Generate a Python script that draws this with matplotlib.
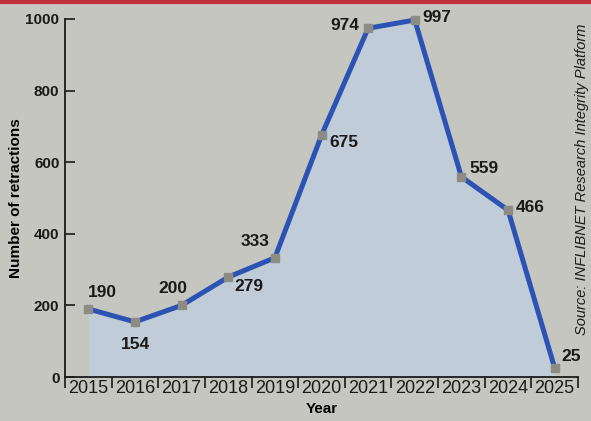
import matplotlib
matplotlib.use("Agg")
import matplotlib.pyplot as plt
from matplotlib.lines import Line2D

years = ["2015", "2016", "2017", "2018", "2019", "2020", "2021", "2022", "2023", "2024", "2025"]
retractions = [190, 154, 200, 279, 333, 675, 974, 997, 559, 466, 25]
yticks = [0, 200, 400, 600, 800, 1000]
# label offsets (points) for each data label
label_offsets = [(10, 12), (0, -16), (-6, 12), (15, -7), (-14, 12), (16, -5), (-17, 2), (16, 2), (16, 6), (16, 2), (12, 8)]

font = ["Liberation Sans Narrow", "Liberation Sans", "DejaVu Sans"]
plt.rcParams["font.family"] = font

bg = "#c6c6c1"
fig = plt.figure(figsize=(5.91, 4.21), dpi=100, facecolor=bg)
ax = fig.add_axes([0.110, 0.1045, 0.868, 0.8505])
ax.set_facecolor(bg)

x = list(range(len(years)))
ax.fill_between(x, retractions, 0, color="#c0cdd8", zorder=1, linewidth=0)
ax.plot(x, retractions, color="#2c52b4", linewidth=3.6, zorder=3, solid_joinstyle="miter",
        marker="s", markersize=6, markerfacecolor="#8d8c84", markeredgecolor="#8d8c84", clip_on=False)

for xi, v, off in zip(x, retractions, label_offsets):
    ax.annotate(str(v), (xi, v), xytext=off, textcoords="offset points",
                ha="center", va="center", fontsize=12.5, fontweight="bold", color="#1a1a1a", zorder=5)

ax.set_xlim(-0.5, len(years) - 0.5)
ax.set_ylim(0, 1000)
ax.set_yticks(yticks)
ax.set_yticklabels([str(t) for t in yticks], fontsize=11, fontweight="bold")
ax.tick_params(axis="y", direction="in", length=7, width=1.2, pad=4, colors="#1a1a1a")
ax.set_xticks(x)
ax.set_xticklabels(years, fontsize=13)
ax.tick_params(axis="x", length=0, pad=2, colors="#1a1a1a")
ax.set_xticks([i - 0.5 for i in range(len(years) + 1)], minor=True)
ax.tick_params(axis="x", which="minor", direction="out", length=8, width=1.2, color="#1a1a1a")

for s in ["top", "right"]:
    ax.spines[s].set_visible(False)
for s in ["left", "bottom"]:
    ax.spines[s].set_linewidth(1.3)
    ax.spines[s].set_color("#1a1a1a")

ax.set_ylabel("Number of retractions", fontsize=11, fontweight="bold", labelpad=2)
ax.set_xlabel("Year", fontsize=11, fontweight="bold", labelpad=4)

fig.text(0.984, 0.575, "Source: INFLIBNET Research Integrity Platform", rotation=90,
         fontsize=10.5, style="italic", ha="center", va="center", color="#1a1a1a")

fig.add_artist(Line2D([0, 1], [0.996, 0.996], transform=fig.transFigure, color="#c0303a", linewidth=3))

fig.savefig("out.png", dpi=100, facecolor=bg)
